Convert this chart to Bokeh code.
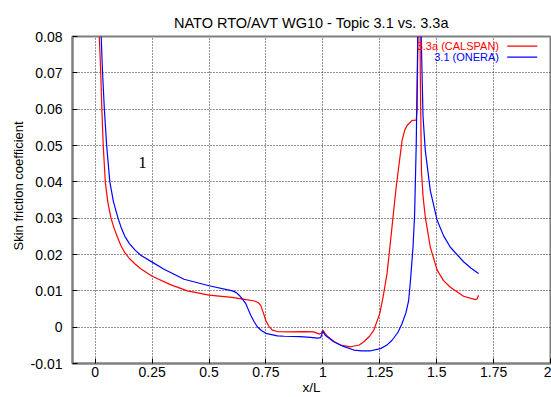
from bokeh.plotting import figure
from bokeh.models import Range1d, FixedTicker, Label, Arrow, Title
from bokeh.embed import file_html
from bokeh.resources import INLINE

# ---- data ----
red_x = [0.010, 0.0175, 0.021, 0.025, 0.029, 0.035, 0.044, 0.055, 0.069, 0.083, 0.098, 0.113, 0.13,
         0.15, 0.175, 0.20, 0.25, 0.33, 0.405, 0.50, 0.60, 0.65, 0.70, 0.715, 0.727, 0.738, 0.749,
         0.762, 0.778, 0.80, 0.858, 0.92, 0.96, 0.985, 0.993, 1.0, 1.02, 1.05, 1.078, 1.122, 1.16,
         1.18, 1.205, 1.224, 1.25, 1.265, 1.282, 1.296, 1.311, 1.322, 1.333, 1.348, 1.36, 1.37,
         1.392, 1.41, 1.414, 1.419, 1.424, 1.428, 1.433, 1.44, 1.45, 1.472, 1.502, 1.53, 1.56,
         1.618, 1.67, 1.678, 1.684]
red_y = [0.150, 0.080, 0.075, 0.068, 0.060, 0.050, 0.040, 0.0345, 0.030, 0.0272, 0.0247, 0.0224,
         0.0205, 0.0189, 0.0174, 0.0161, 0.0140, 0.0117, 0.0100, 0.0088, 0.0082, 0.0077, 0.0072,
         0.0068, 0.0060, 0.0040, 0.0019, 0.0003, -0.0008, -0.0012, -0.0013, -0.0012, -0.0013,
         -0.0019, -0.0016, -0.0009, -0.0025, -0.0040, -0.0049, -0.0054, -0.0049, -0.0040, -0.0025,
         -0.0008, 0.0038, 0.0085, 0.0148, 0.023, 0.032, 0.0385, 0.044, 0.0514, 0.0543, 0.0555,
         0.0569, 0.0570, 0.060, 0.090, 0.110, 0.070, 0.043, 0.036, 0.0303, 0.022, 0.0157, 0.0128,
         0.0110, 0.0085, 0.0076, 0.0078, 0.0088]

blue_x = [0.015, 0.026, 0.032, 0.040, 0.050, 0.064, 0.080, 0.100, 0.115, 0.130, 0.150, 0.175, 0.200,
          0.250, 0.30, 0.39, 0.50, 0.603, 0.62, 0.632, 0.647, 0.661, 0.672, 0.683, 0.698, 0.712, 0.73,
          0.749, 0.80, 0.83, 0.90, 0.946, 0.975, 0.99, 1.0, 1.01, 1.048, 1.09, 1.136, 1.17, 1.21,
          1.253, 1.28, 1.304, 1.33, 1.348, 1.365, 1.377, 1.385, 1.396, 1.403, 1.41, 1.417, 1.425,
          1.432, 1.44, 1.45, 1.472, 1.502, 1.53, 1.56, 1.618, 1.65, 1.684]
blue_y = [0.150, 0.080, 0.070, 0.060, 0.050, 0.040, 0.0345, 0.030, 0.0272, 0.0250, 0.0230, 0.0212,
          0.0198, 0.0179, 0.0160, 0.0132, 0.0114, 0.0100, 0.0095, 0.0088, 0.0077, 0.0065, 0.0049,
          0.0033, 0.0015, 0.0001, -0.0009, -0.0017, -0.0024, -0.0025, -0.0026, -0.0028, -0.0030,
          -0.0029, -0.0011, -0.0022, -0.0040, -0.0053, -0.0063, -0.0065, -0.0065, -0.0059, -0.0050,
          -0.0036, -0.0014, 0.0010, 0.0040, 0.0074, 0.013, 0.022, 0.031, 0.050, 0.080, 0.130, 0.080,
          0.058, 0.0486, 0.0376, 0.0294, 0.0252, 0.0220, 0.0180, 0.0163, 0.0148]

x_ticks = [0, 0.25, 0.5, 0.75, 1, 1.25, 1.5, 1.75, 2]
x_tick_labels = ["0", "0.25", "0.5", "0.75", "1", "1.25", "1.5", "1.75", "2"]
y_ticks = [-0.01, 0, 0.01, 0.02, 0.03, 0.04, 0.05, 0.06, 0.07, 0.08]
y_tick_labels = ["-0.01", "0", "0.01", "0.02", "0.03", "0.04", "0.05", "0.06", "0.07", "0.08"]

series_names = ["3.3a (CALSPAN)", "3.1 (ONERA)"]
series_colors = ["#ff0000", "#0000ff"]

title_text = "NATO RTO/AVT WG10 - Topic 3.1 vs. 3.3a"
xlabel_text = "x/L"
ylabel_text = "Skin friction coefficient"

FONT = "Liberation Sans"

W, H = 551, 397
ML, MR, MT, MB = 72, 1, 36, 34
FW, FH = W - ML - MR, H - MT - MB   # frame size

p = figure(width=W, height=H, output_backend="svg", toolbar_location=None,
           x_range=Range1d(-0.1, 2.0), y_range=Range1d(-0.01, 0.08),
           min_border_left=ML, min_border_right=MR, min_border_top=MT, min_border_bottom=MB)

p.title.text = title_text
p.title.align = "center"
p.title.text_font = FONT
p.title.text_font_size = "14.5px"
p.title.text_font_style = "normal"
p.title.text_color = "#000000"
p.title.standoff = 12

p.outline_line_color = "#808080"
p.outline_line_width = 2
p.outline_line_alpha = 1.0

for ax in (p.xaxis[0], p.yaxis[0]):
    ax.axis_line_color = "#808080"
    ax.axis_line_width = 2
    ax.major_tick_in = 5
    ax.major_tick_out = 0
    ax.minor_tick_line_color = None
    ax.major_tick_line_color = "#000000"
    ax.major_label_text_font = FONT
    ax.major_label_text_font_size = "14px"
    ax.major_label_text_color = "#000000"
    ax.axis_label_text_font = FONT
    ax.axis_label_text_font_style = "normal"
    ax.axis_label_text_font_size = "13.5px"
    ax.axis_label_text_color = "#000000"

p.xaxis.ticker = FixedTicker(ticks=x_ticks)
p.xaxis.major_label_overrides = dict(zip(x_ticks, x_tick_labels))
p.xaxis.major_label_standoff = 3
p.xaxis.axis_label = xlabel_text
p.xaxis.axis_label_standoff = 0

p.yaxis.ticker = FixedTicker(ticks=y_ticks)
p.yaxis.major_label_overrides = dict(zip(y_ticks, y_tick_labels))
p.yaxis.major_label_standoff = 10

# y label as a side title, anchored at its start like gnuplot's (text runs bottom -> top)
p.add_layout(Title(text=ylabel_text, align="left", offset=113, standoff=3,
                   text_font=FONT, text_font_size="13px", text_font_style="normal",
                   text_color="#000000"), "left")

p.grid.grid_line_color = "#000000"
p.grid.grid_line_dash = "1 2"
p.grid.grid_line_width = 1
p.grid.grid_line_alpha = 0.85

p.line(red_x, red_y, line_color=series_colors[0], line_width=1.2)
p.line(blue_x, blue_y, line_color=series_colors[1], line_width=1.2)

def page_to_frame(px, py):
    # screen units of annotations are relative to the frame's bottom-left corner
    return px - ML, (MT + FH) - py

# annotation "1"
p.add_layout(Label(x=0.208, y=0.0454, text="1", text_align="center", text_baseline="middle",
                   text_font="Liberation Serif", text_font_size="17px", text_color="#000000"))

# legend (gnuplot style: text then sample line)
for i, (name, col) in enumerate(zip(series_names, series_colors)):
    rx, ry = page_to_frame(498.5, 45.7 + 11 * i)
    p.add_layout(Label(x=rx, y=ry, x_units="screen", y_units="screen", text=name,
                       text_align="right", text_baseline="middle", text_font=FONT,
                       text_font_size="11px", text_color=col))
    sx0, sy = page_to_frame(506.7, 45.7 + 11 * i)
    sx1, _ = page_to_frame(536.7, 45.7 + 11 * i)
    p.add_layout(Arrow(end=None, start=None, x_start=sx0, x_end=sx1, y_start=sy, y_end=sy,
                       start_units="screen", end_units="screen", line_color=col, line_width=1.2))

open("out.html", "w").write(file_html(p, INLINE))
